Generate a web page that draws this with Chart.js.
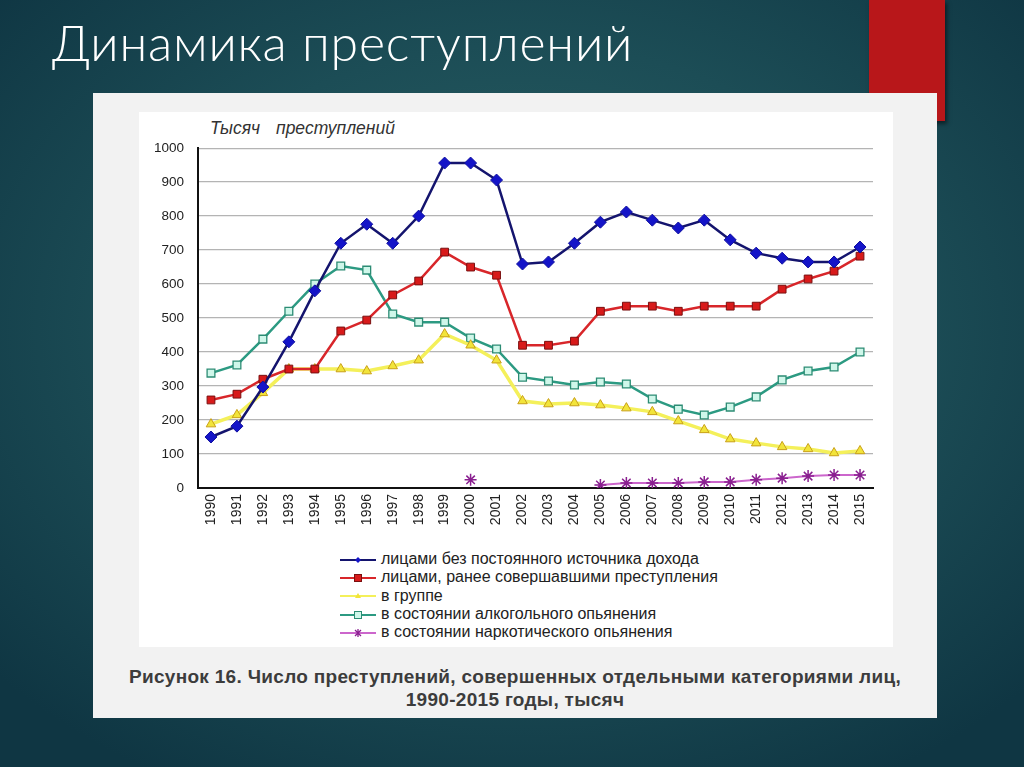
<!DOCTYPE html>
<html>
<head>
<meta charset="utf-8">
<script src="https://cdn.jsdelivr.net/npm/chart.js@4.4.0/dist/chart.umd.min.js"></script>
<style>
  html, body { margin: 0; padding: 0; }
  body {
    width: 1024px; height: 767px; overflow: hidden; position: relative;
    background: radial-gradient(ellipse 700px 520px at 520px 330px, #2c6467 0%, #1c4d56 55%, #0f3643 100%);
    font-family: "Liberation Sans", Arial, sans-serif;
  }
  #title {
    position: absolute; left: 52px; top: 12px;
    color: #fff; font-family: Lato, "Open Sans", sans-serif; font-weight: 300;
    font-size: 50px; letter-spacing: 0.8px;
  }
  #redbox {
    position: absolute; left: 869px; top: 0; width: 76px; height: 121px;
    background: #b8171a; box-shadow: 2px 3px 4px rgba(0,0,0,0.5);
  }
  #panel {
    position: absolute; left: 93px; top: 93px; width: 844px; height: 625px;
    background: #f2f2f2;
  }
  #inner {
    position: absolute; left: 139px; top: 112px; width: 754px; height: 535px;
    background: #fff;
  }
  #unit {
    position: absolute; left: 210px; top: 118px; font-style: italic;
    font-size: 17.5px; color: #333; word-spacing: 11px;
  }
  #chartbox { position: absolute; left: 140px; top: 126px; width: 745px; height: 422px; }
  #legend { position: absolute; left: 340px; top: 550px; font-size: 16px; color: #222; }
  #legend div { height: 18.3px; line-height: 18.3px; white-space: nowrap; }
  #legend svg { vertical-align: middle; margin-right: 5px; }
  #caption {
    position: absolute; left: 93px; width: 844px; top: 665px; text-align: center;
    font-weight: bold; font-size: 19px; letter-spacing: 0.3px; color: #3c3c3c; line-height: 23px;
  }
</style>
</head>
<body>
<div id="title">Динамика преступлений</div>
<div id="redbox"></div>
<div id="panel"></div>
<div id="inner"></div>
<div id="unit">Тысяч преступлений</div>
<div id="chartbox"><canvas id="chart"></canvas></div>
<div id="legend"></div>
<div id="caption">Рисунок 16. Число преступлений, совершенных отдельными категориями лиц,<br>1990-2015 годы, тысяч</div>
<script>
var years = ['1990','1991','1992','1993','1994','1995','1996','1997','1998','1999','2000','2001','2002',
  '2003','2004','2005','2006','2007','2008','2009','2010','2011','2012','2013','2014','2015'];
var yTicks = [0, 100, 200, 300, 400, 500, 600, 700, 800, 900, 1000];

var noIncome = [150, 182, 297, 430, 580, 720, 776, 720, 800, 956, 956, 906, 659,
  665, 720, 782, 812, 788, 765, 788, 730, 691, 676, 665, 665, 709];
var repeatOffenders = [259, 276, 320, 350, 350, 462, 494, 568, 609, 694, 650, 626, 420,
  420, 432, 520, 535, 535, 520, 535, 535, 535, 585, 615, 638, 682];
var inGroup = [188, 215, 280, 350, 350, 350, 344, 359, 376, 453, 420, 376, 256,
  247, 250, 244, 235, 224, 197, 171, 144, 132, 121, 115, 103, 109];
var alcohol = [338, 362, 438, 520, 600, 653, 641, 512, 488, 488, 441, 409, 326,
  315, 303, 312, 306, 262, 232, 215, 238, 268, 318, 344, 356, 400];
var drugs = [null, null, null, null, null, null, null, null, null, null, 24, null, null,
  null, null, 9, 15, 15, 15, 18, 18, 24, 29, 35, 38, 38];

var seriesNames = [
  'лицами  без постоянного источника дохода',
  'лицами,  ранее совершавшими преступления',
  'в группе',
  'в состоянии алкогольного  опьянения',
  'в состоянии наркотического опьянения'
];

var ctx = document.getElementById('chart');
var myChart = new Chart(ctx, {
  type: 'line',
  data: {
    labels: years,
    datasets: [
      {
        label: seriesNames[0], data: noIncome,
        borderColor: '#14146e', borderWidth: 2.5,
        pointStyle: 'rectRot', pointRadius: 6, pointBackgroundColor: '#1414c8', pointBorderColor: '#1010a0', pointBorderWidth: 1
      },
      {
        label: seriesNames[1], data: repeatOffenders,
        borderColor: '#d8262a', borderWidth: 2.5,
        pointStyle: 'rect', pointRadius: 5.5, pointBackgroundColor: '#d81a1a', pointBorderColor: '#7a1010', pointBorderWidth: 1
      },
      {
        label: seriesNames[2], data: inGroup,
        borderColor: '#f4f05a', borderWidth: 3.5,
        pointStyle: 'triangle', pointRadius: 5.5, pointBackgroundColor: '#f2e43a', pointBorderColor: '#c9a018', pointBorderWidth: 1
      },
      {
        label: seriesNames[3], data: alcohol,
        borderColor: '#2c9a82', borderWidth: 2.5,
        pointStyle: 'rect', pointRadius: 5.5, pointBackgroundColor: '#cff7ea', pointBorderColor: '#2c8c74', pointBorderWidth: 1.3
      },
      {
        label: seriesNames[4], data: drugs,
        borderColor: '#cc66cc', borderWidth: 2,
        pointStyle: 'star', pointRadius: 6, pointBorderColor: '#8a2090', pointBorderWidth: 1.5, pointBackgroundColor: '#8a2090',
        spanGaps: false
      }
    ]
  },
  options: {
    responsive: true,
    maintainAspectRatio: false,
    animation: false,
    layout: { padding: { top: 10, right: 12, left: 0, bottom: 0 } },
    plugins: { legend: { display: false }, tooltip: { enabled: false } },
    elements: { line: { tension: 0 } },
    scales: {
      x: {
        offset: true,
        grid: { display: false, drawTicks: false },
        border: { color: '#111', width: 2 },
        ticks: { color: '#222', font: { size: 14, family: 'Liberation Sans' }, maxRotation: 90, minRotation: 90, padding: 6 },
        afterFit: function (s) { s.height = 60; }
      },
      y: {
        min: 0, max: 1000,
        afterBuildTicks: function (s) { s.ticks = yTicks.map(function (v) { return { value: v }; }); },
        grid: { color: '#b4b4b4', lineWidth: 1.2, drawTicks: false },
        border: { color: '#111', width: 2 },
        ticks: {
          color: '#222', font: { size: 13.5, family: 'Liberation Sans' }, padding: 14,
          callback: function (v) { return String(v); }
        },
        afterFit: function (s) { s.width = 58; }
      }
    }
  }
});

// HTML legend built from the datasets
var legend = document.getElementById('legend');
myChart.data.datasets.forEach(function (ds) {
  var row = document.createElement('div');
  var marker = '';
  var c = ds.pointBackgroundColor, b = ds.pointBorderColor;
  if (ds.pointStyle === 'rectRot') marker = '<polygon points="18,3 21,6 18,9 15,6" fill="' + c + '"/>';
  else if (ds.pointStyle === 'rect') marker = '<rect x="14.5" y="2.5" width="7" height="7" fill="' + c + '" stroke="' + b + '"/>';
  else if (ds.pointStyle === 'triangle') marker = '<polygon points="18,3 21,8 15,8" fill="' + c + '"/>';
  else marker = '<path d="M15,3 L21,9 M21,3 L15,9 M18,2 L18,10" stroke="' + b + '" stroke-width="1.3"/>';
  row.innerHTML = '<svg width="36" height="12"><line x1="0" y1="6" x2="36" y2="6" stroke="' + ds.borderColor +
    '" stroke-width="2"/>' + marker + '</svg>' + ds.label;
  legend.appendChild(row);
});
</script>
</body>
</html>
